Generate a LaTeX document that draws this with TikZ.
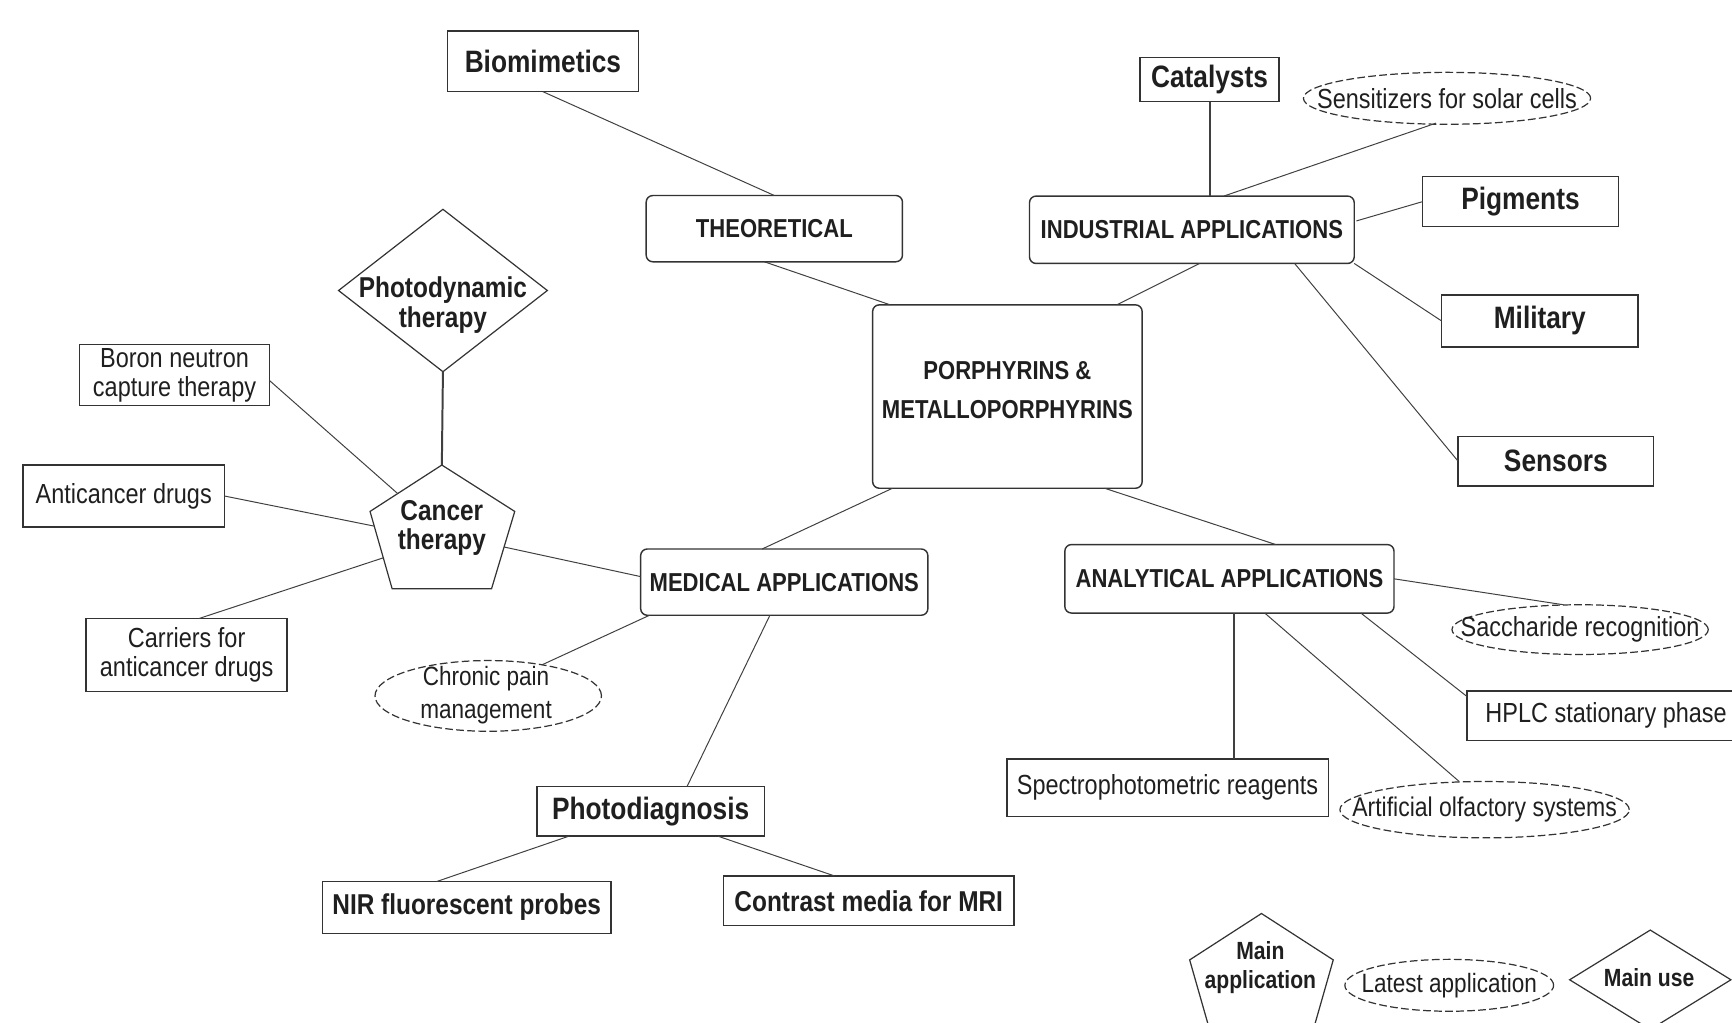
\documentclass[tikz,border=0pt]{standalone}
\usepackage{fontspec}
\setmainfont{Liberation Sans}[FakeStretch=0.85]
\usetikzlibrary{shapes.geometric,calc}
\begin{document}
\begin{tikzpicture}[x=1pt,y=-1pt,
  every node/.style={inner sep=0pt, outer sep=0pt, text=black!88},
  box/.style={draw=black!80, line width=1.3pt, rectangle},
  rbox/.style={box, rounded corners=6pt},
  ell/.style={draw=black!80, ellipse, line width=1.1pt, dash pattern=on 7pt off 3pt},
  shp/.style={draw=black!80, line width=1.1pt, line join=miter},
  conn/.style={draw=black!75, line width=0.9pt},
  tconn/.style={draw=black!75, line width=1.8pt},
  fbig/.style={font=\bfseries\fontsize{28}{30}\selectfont},
  fhead/.style={font=\bfseries\fontsize{23.5}{35}\selectfont},
  fmid/.style={font=\bfseries\fontsize{26}{27}\selectfont},
  freg/.style={font=\fontsize{25}{26}\selectfont},
  fleg/.style={font=\bfseries\fontsize{22.5}{27}\selectfont},
]
\useasboundingbox (0,0) rectangle (1568,926);
\clip (0,0) rectangle (1568,926);

% ---------- top / theoretical ----------
\node[box, fbig, minimum width=173, minimum height=55] (bio) at (491.5,55.5) {Biomimetics};
\node[rbox, fhead, minimum width=232, minimum height=60] (theo) at (701,207) {THEORETICAL};

% ---------- industrial ----------
\node[box, fbig, minimum width=126, minimum height=40] (cat) at (1095,72) {Catalysts};
\node[ell, minimum width=260, minimum height=47,
      label={[name=solt, freg]center:Sensitizers for solar cells}] (sol) at (1310,89) {};
\node[rbox, fhead, minimum width=294, minimum height=61] (ind) at (1079,208) {INDUSTRIAL APPLICATIONS};
\node[box, fbig, minimum width=177, minimum height=45] (pig) at (1376.5,182.5) {Pigments};
\node[box, fbig, minimum width=178, minimum height=47] (mil) at (1394,290.5) {Military};
\node[box, fbig, minimum width=177, minimum height=45] (snr) at (1408.5,417.5) {Sensors};

% ---------- centre ----------
\node[rbox, minimum width=244, minimum height=166] (por) at (912,359) {};
\node[fhead, align=center] (port) at (912,353) {PORPHYRINS \&\\METALLOPORPHYRINS};

% ---------- cancer / medical ----------
\node[diamond, shp, minimum width=189, minimum height=147] (pdt) at (401,263) {};
\node[fmid, align=center] (pdtt) at (401,276) {Photodynamic\\therapy};

\coordinate (ct-t) at (400,421);
\coordinate (ct-l) at (335,463);
\coordinate (ct-r) at (466,463);
\coordinate (ct-bl) at (355,533);
\coordinate (ct-br) at (445,533);
\draw[shp] (ct-t) -- (ct-r) -- (ct-br) -- (ct-bl) -- (ct-l) -- cycle;
\node[fmid, align=center] (ct) at (400,478) {Cancer\\therapy};

\node[box, freg, align=center, minimum width=172, minimum height=55] (bnct) at (158,339.5)
  {\fontsize{25}{23.5}\selectfont Boron neutron\\capture therapy};
\node[box, freg, minimum width=182, minimum height=56] (acd) at (112,449) {Anticancer drugs};
\node[box, freg, align=center, minimum width=182, minimum height=66] (car) at (169,593)
  {\fontsize{25}{28}\selectfont Carriers for\\anticancer drugs};
\node[rbox, fhead, minimum width=260, minimum height=60] (medn) at (710,527) {MEDICAL APPLICATIONS};
\node[ell, minimum width=205, minimum height=64] (cpm) at (442,630) {};
\node[align=center, font=\fontsize{24}{30}\selectfont] (cpmt) at (440,629) {Chronic pain\\management};
\node[box, fbig, minimum width=206, minimum height=45] (pdx) at (589,734.5) {Photodiagnosis};
\node[box, fmid, minimum width=261, minimum height=47] (nir) at (422.5,821.5) {NIR fluorescent probes};
\node[box, fmid, minimum width=263, minimum height=45] (cmr) at (786.5,815.5) {Contrast media for MRI};

% ---------- analytical ----------
\node[rbox, fhead, minimum width=298, minimum height=62] (ana) at (1113,524) {ANALYTICAL APPLICATIONS};
\node[ell, minimum width=232, minimum height=45,
      label={[name=sact, freg]center:Saccharide recognition}] (sac) at (1430.5,570) {};
\node[box, freg, minimum width=252, minimum height=45] (hplc) at (1454,648) {HPLC stationary phase};
\node[box, freg, minimum width=291, minimum height=52] (spec) at (1057,713) {Spectrophotometric reagents};
\node[ell, minimum width=262, minimum height=51,
      label={[name=aost, font=\fontsize{24.5}{26}\selectfont]center:Artificial olfactory systems}] (aos) at (1344,733) {};

% ---------- legend ----------
\coordinate (lp-t) at (1142,827);
\coordinate (lp-l) at (1077,869);
\coordinate (lp-r) at (1207,869);
\coordinate (lp-bl) at (1097,939);
\coordinate (lp-br) at (1187,939);
\draw[shp] (lp-t) -- (lp-r) -- (lp-br) -- (lp-bl) -- (lp-l) -- cycle;
\node[fleg, align=center] (lpt) at (1141,876) {Main\\application};
\node[ell, minimum width=189, minimum height=47,
      label={[name=llat, font=\fontsize{24}{26}\selectfont]center:Latest application}] (lla) at (1312,892) {};
\node[diamond, shp, minimum width=146, minimum height=90] (lmu) at (1494,887) {};
\node[fleg] (lmut) at (1493,885) {Main use};

% ---------- connectors ----------
\draw[conn] (bio.south) -- (theo.north);
\draw[conn] ([xshift=-9pt]theo.south) -- ([xshift=16pt]por.north west);
\draw[conn] ([xshift=7pt]ind.south) -- ([xshift=-23pt]por.north east);
\draw[tconn] (cat.south) -- (cat.south |- ind.north);
\draw[conn] ($(sol.south)+(-10,-1)$) -- ([xshift=29pt]ind.north);
\draw[conn] ($(ind.east)+(2,-8)$) -- (pig.west);
\draw[conn] (ind.south east) -- (mil.west);
\draw[conn] ([xshift=93pt]ind.south) -- (snr.west);
\draw[conn] ([xshift=18pt]por.south west) -- ([xshift=-20pt]medn.north);
\draw[conn] ([xshift=-34pt]por.south east) -- ([xshift=42pt]ana.north);
\draw[tconn] (pdt.south) -- (ct-t);
\draw[conn] ($(bnct.east)+(0,5)$) -- ($(ct-l)!0.385!(ct-t)$);
\draw[conn] (acd.east) -- ($(ct-l)!0.19!(ct-bl)$);
\draw[conn] ([xshift=11pt]car.north) -- ($(ct-l)!0.6!(ct-bl)$);
\draw[conn] ($(ct-r)!0.46!(ct-br)$) -- ($(medn.west)+(0,-5)$);
\draw[conn] ([xshift=8pt]medn.south west) -- (cpm.30);
\draw[conn] ([xshift=-13pt]medn.south) -- ([xshift=33pt]pdx.north);
\draw[conn] ([xshift=-74pt]pdx.south) -- ([xshift=-27pt]nir.north);
\draw[conn] ([xshift=61pt]pdx.south) -- ([xshift=-31pt]cmr.north);
\draw[conn] (ana.east) -- ([xshift=-15pt]sac.north);
\draw[conn] ([xshift=-30pt]ana.south east) -- ($(hplc.north west)+(0,5)$);
\draw[conn] ([xshift=32pt]ana.south) -- ([xshift=-23pt]aos.north);
\draw[tconn] ([xshift=4pt]ana.south) -- ([xshift=4pt]ana.south |- spec.north);
\end{tikzpicture}
\end{document}
